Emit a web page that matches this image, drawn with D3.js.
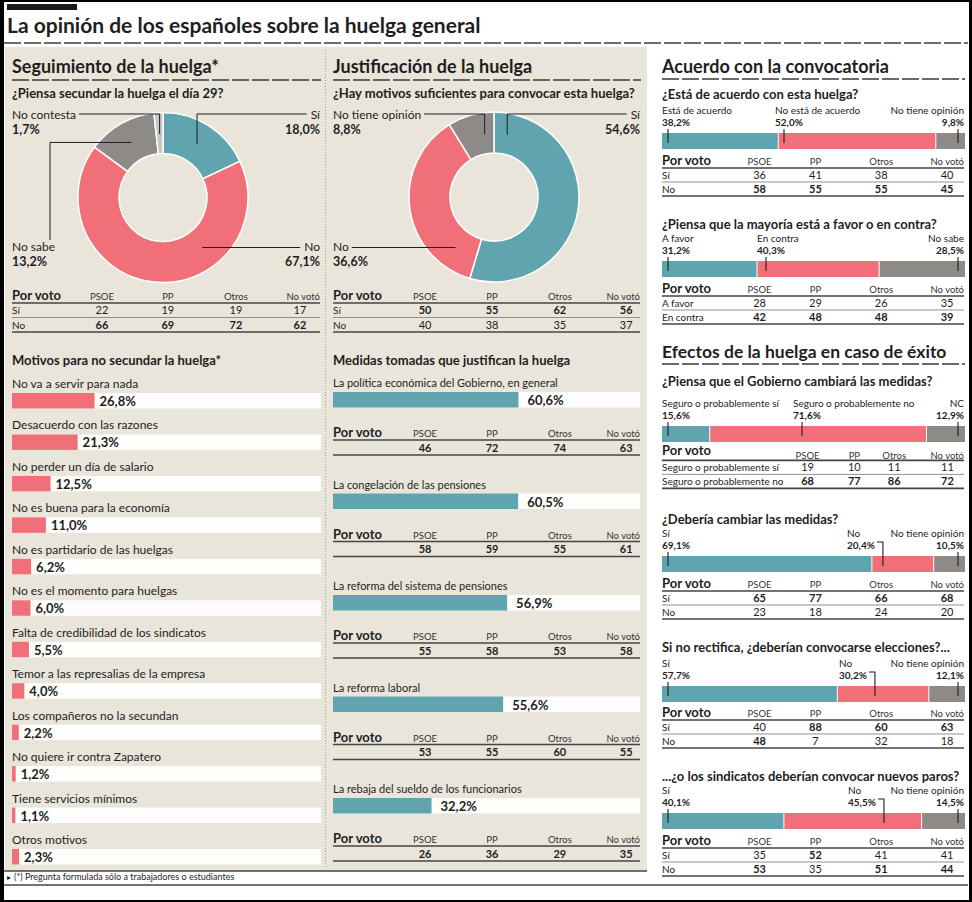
<!DOCTYPE html>
<html><head><meta charset="utf-8">
<script src="https://cdn.jsdelivr.net/npm/d3@7"></script>
<style>
body{margin:0;background:#fff}
svg{display:block}
</style></head><body>
<script>
// ---------------- DATA ----------------
const title = "La opinión de los españoles sobre la huelga general";
const parties = ["PSOE", "PP", "Otros", "No votó"];

// Seguimiento de la huelga
const seguimientoTitle = "Seguimiento de la huelga*";
const seguimientoQuestion = "¿Piensa secundar la huelga el día 29?";
const seguimientoLabels = ["Sí", "No", "No sabe", "No contesta"];
const seguimientoValues = [18.0, 67.1, 13.2, 1.7];
const seguimientoRows = ["Sí", "No"];
const seguimientoVoto = [[22, 19, 19, 17], [66, 69, 72, 62]];

// Motivos para no secundar
const motivosTitle = "Motivos para no secundar la huelga*";
const motivosLabels = ["No va a servir para nada", "Desacuerdo con las razones", "No perder un día de salario",
  "No es buena para la economía", "No es partidario de las huelgas", "No es el momento para huelgas",
  "Falta de credibilidad de los sindicatos", "Temor a las represalias de la empresa",
  "Los compañeros no la secundan", "No quiere ir contra Zapatero", "Tiene servicios mínimos", "Otros motivos"];
const motivosValues = [26.8, 21.3, 12.5, 11.0, 6.2, 6.0, 5.5, 4.0, 2.2, 1.2, 1.1, 2.3];

// Justificación
const justificacionTitle = "Justificación de la huelga";
const justificacionQuestion = "¿Hay motivos suficientes para convocar esta huelga?";
const justificacionLabels = ["Sí", "No", "No tiene opinión"];
const justificacionValues = [54.6, 36.6, 8.8];
const justificacionRows = ["Sí", "No"];
const justificacionVoto = [[50, 55, 62, 56], [40, 38, 35, 37]];

// Medidas
const medidasTitle = "Medidas tomadas que justifican la huelga";
const medidasLabels = ["La política económica del Gobierno, en general", "La congelación de las pensiones",
  "La reforma del sistema de pensiones", "La reforma laboral", "La rebaja del sueldo de los funcionarios"];
const medidasValues = [60.6, 60.5, 56.9, 55.6, 32.2];
const medidasVoto = [[46, 72, 74, 63], [58, 59, 55, 61], [55, 58, 53, 58], [53, 55, 60, 55], [26, 36, 29, 35]];

// Right column
const acuerdoTitle = "Acuerdo con la convocatoria";
const efectosTitle = "Efectos de la huelga en caso de éxito";
const rightQuestions = ["¿Está de acuerdo con esta huelga?", "¿Piensa que la mayoría está a favor o en contra?",
  "¿Piensa que el Gobierno cambiará las medidas?", "¿Debería cambiar las medidas?",
  "Si no rectifica, ¿deberían convocarse elecciones?...", "...¿o los sindicatos deberían convocar nuevos paros?"];
const rightLabels = [
  ["Está de acuerdo", "No está de acuerdo", "No tiene opinión"],
  ["A favor", "En contra", "No sabe"],
  ["Seguro o probablemente sí", "Seguro o probablemente no", "NC"],
  ["Sí", "No", "No tiene opinión"],
  ["Sí", "No", "No tiene opinión"],
  ["Sí", "No", "No tiene opinión"]];
const rightValues = [[38.2, 52.0, 9.8], [31.2, 40.3, 28.5], [15.6, 71.6, 12.9],
  [69.1, 20.4, 10.5], [57.7, 30.2, 12.1], [40.1, 45.5, 14.5]];
const rightRows = [["Sí", "No"], ["A favor", "En contra"],
  ["Seguro o probablemente sí", "Seguro o probablemente no"], ["Sí", "No"], ["Sí", "No"], ["Sí", "No"]];
const rightVoto = [
  [[36, 41, 38, 40], [58, 55, 55, 45]],
  [[28, 29, 26, 35], [42, 48, 48, 39]],
  [[19, 10, 11, 11], [68, 77, 86, 72]],
  [[65, 77, 66, 68], [23, 18, 24, 20]],
  [[40, 88, 60, 63], [48, 7, 32, 18]],
  [[35, 52, 41, 41], [53, 35, 51, 44]]];
const footnote = "(*) Pregunta formulada sólo a trabajadores o estudiantes";

// ---------------- STYLE / LAYOUT ----------------
const FONT = "Lato, 'Liberation Sans', sans-serif";
const C = {teal: "#5fa4af", red: "#f06f78", grey: "#8d8a88", light: "#c8c6c3", beige: "#e9e5da",
  ink: "#1e1e1e", track: "#fdfdfb", rule: "#444"};
const segColors = [C.teal, C.red, C.grey, C.light];
const fmt = d3.formatLocale({decimal: ",", thousands: ".", grouping: [3], currency: ["", "€"]}).format(".1f");
const pct = v => fmt(v) + "%";

const svg = d3.select("body").append("svg").attr("width", 972).attr("height", 902)
  .style("font-family", FONT);
svg.append("rect").attr("width", 972).attr("height", 902).attr("fill", "#fff");

function txt(g, x, y, s, o = {}) {
  return g.append("text").attr("x", x).attr("y", y).text(s)
    .attr("font-size", o.size || 11).attr("font-weight", o.weight || "normal")
    .attr("text-anchor", o.anchor || "start").attr("fill", o.fill || C.ink);
}
function line(g, x1, y1, x2, y2, w = 1, col = C.ink, dash = null) {
  const l = g.append("line").attr("x1", x1).attr("y1", y1).attr("x2", x2).attr("y2", y2)
    .attr("stroke", col).attr("stroke-width", w);
  if (dash) l.attr("stroke-dasharray", dash);
  return l;
}
function dashed(g, x0, x1, y) { line(g, x0, y, x1, y, 1.7, "#3a3a3a", "17,3"); }

// background panel & frame
svg.append("rect").attr("x", 5).attr("y", 47).attr("width", 642).attr("height", 824).attr("fill", C.beige);
line(svg, 325.5, 50, 325.5, 868, 1, "#9a968c", "1,2");
svg.append("rect").attr("x", 7).attr("y", 4).attr("width", 70).attr("height", 6).attr("fill", "#1a1a1a");
txt(svg, 7, 33, title, {size: 21, weight: "bold"});
dashed(svg, 4, 968, 43);
line(svg, 4, 871, 647, 871, 1.6, C.rule);
line(svg, 4, 885, 968, 885, 1.6, C.rule);
txt(svg, 7, 880, "▸", {size: 8});
txt(svg, 14, 880, footnote, {size: 9});
svg.append("rect").attr("x", 0).attr("y", 0).attr("width", 4).attr("height", 902).attr("fill", "#000");
svg.append("rect").attr("x", 969).attr("y", 0).attr("width", 3).attr("height", 902).attr("fill", "#000");
svg.append("rect").attr("x", 0).attr("y", 0).attr("width", 972).attr("height", 2).attr("fill", "#000");
svg.append("rect").attr("x", 0).attr("y", 900).attr("width", 972).attr("height", 2).attr("fill", "#000");

// ------------- Por voto table -------------
function votoTable(g, x0, x1, y, rowLabels, values, o = {}) {
  const cols = o.cols || [0.3, 0.51, 0.73, 0.945];
  const rowH = o.rowH || 14;
  const xs = d3.scaleLinear().domain([0, 1]).range([x0, x1]);
  txt(g, x0, y, "Por voto", {size: 13, weight: "bold"});
  const hy = y + (o.headerDy || 0);
  parties.forEach((p, i) => txt(g, i === 3 ? x1 : xs(cols[i]), hy, p,
    {size: 9.5, anchor: i === 3 ? "end" : "middle", fill: "#333"}));
  const top = y + 3 + (o.headerDy || 0) * 0.6;
  line(g, x0, top, x1, top, 1.6, C.rule);
  const colMax = parties.map((_, j) => d3.max(values, r => r[j]));
  values.forEach((row, i) => {
    const by = top + rowH * (i + 1) - 3.5;
    if (rowLabels) txt(g, x0, by, rowLabels[i], {size: 10});
    row.forEach((v, j) => txt(g, xs(cols[j]), by, v,
      {size: 11, anchor: "middle", weight: (values.length === 1 || v === colMax[j]) ? "bold" : "normal"}));
    const last = i === values.length - 1;
    line(g, x0, top + rowH * (i + 1), x1, top + rowH * (i + 1), last ? 1.6 : 0.8, last ? C.rule : "#777");
  });
}

// ------------- Donut -------------
function donut(g, cx, cy, x0, x1, labels, values, cfg) {
  const pie = d3.pie().sort(null).value(d => d.v);
  const arcs = pie(labels.map((l, i) => ({l, v: values[i], i})));
  const arc = d3.arc().innerRadius(44).outerRadius(85);
  g.append("g").attr("transform", `translate(${cx},${cy})`)
    .selectAll("path").data(arcs).enter().append("path")
    .attr("d", arc).attr("fill", d => segColors[d.data.i]).attr("stroke", "#fff").attr("stroke-width", 1.5);
  const rm = 63.5;
  cfg.forEach((c, i) => {
    const a = arcs[i];
    const right = c.side === "right";
    const ny = c.pos === "top" ? 119 : 251;
    const lx = right ? x1 : x0;
    const t = txt(g, lx, ny, labels[i], {size: 12, anchor: right ? "end" : "start"});
    txt(g, lx, ny + 14.5, pct(values[i]), {size: 12.5, weight: "bold", anchor: right ? "end" : "start"});
    const tw = t.node().getComputedTextLength();
    const edge = right ? lx - tw - 4 : lx + tw + 3;
    const ang = c.angle != null ? c.angle * Math.PI / 180 : (a.startAngle + a.endAngle) / 2;
    let px = cx + rm * Math.sin(ang), py = cy - rm * Math.cos(ang);
    if (c.type === "top") {
      const ly = ny - 5;
      g.append("path").attr("d", `M${edge},${ly}H${px}V${py}`).attr("fill", "none").attr("stroke", C.ink);
    } else if (c.type === "side") {
      const ly = ny - 3.5;
      const dx = Math.sqrt(rm * rm - (ly - cy) * (ly - cy));
      px = right ? cx + dx : cx - dx;
      line(g, edge, ly, px, ly);
    } else {
      const vx = x0 + 38;
      g.append("path").attr("d", `M${px},${py}H${vx}V${ny - 11}`).attr("fill", "none").attr("stroke", C.ink);
    }
  });
}

// ------------- Simple horizontal bar -------------
function simpleBar(g, x0, x1, y, label, value, color, gap, lsize) {
  const xs = d3.scaleLinear().domain([0, 100]).range([x0, x1 - 1]);
  txt(g, x0, y, label, {size: lsize});
  g.append("rect").attr("x", x0).attr("y", y + 5).attr("width", x1 - x0).attr("height", 15.5).attr("fill", C.track);
  g.append("rect").attr("x", x0).attr("y", y + 5).attr("width", xs(value) - x0).attr("height", 15.5).attr("fill", color);
  txt(g, xs(value) + gap, y + 18, pct(value), {size: 13, weight: "bold"});
}

// ---------------- LEFT COLUMN ----------------
const L = svg.append("g");
txt(L, 12, 73, seguimientoTitle, {size: 18, weight: "bold"});
dashed(L, 12, 321, 80);
txt(L, 12, 98, seguimientoQuestion, {size: 13, weight: "bold"});
donut(L, 163, 197.5, 12, 320, seguimientoLabels, seguimientoValues, [
  {side: "right", pos: "top", type: "top"},
  {side: "right", pos: "bottom", type: "side"},
  {side: "left", pos: "bottom", type: "elbow"},
  {side: "left", pos: "top", type: "top"}]);
votoTable(L, 12, 320, 300, seguimientoRows, seguimientoVoto, {cols: [0.292, 0.506, 0.727, 0.935], rowH: 14.5});
txt(L, 12, 365, motivosTitle, {size: 13, weight: "bold"});
const motY = d3.scaleLinear().domain([0, motivosLabels.length - 1]).range([388, 844]);
motivosLabels.forEach((m, i) => simpleBar(L, 12, 321, motY(i), m, motivosValues[i], C.red, 5, 12));

// ---------------- MIDDLE COLUMN ----------------
const M = svg.append("g");
txt(M, 333, 73, justificacionTitle, {size: 18, weight: "bold"});
dashed(M, 333, 641, 80);
txt(M, 333, 98, justificacionQuestion, {size: 13, weight: "bold"});
donut(M, 494, 197, 333, 640, justificacionLabels, justificacionValues, [
  {side: "right", pos: "top", type: "top", angle: 12},
  {side: "left", pos: "bottom", type: "side"},
  {side: "left", pos: "top", type: "top", angle: 351.5}]);
votoTable(M, 333, 640, 300, justificacionRows, justificacionVoto, {cols: [0.3, 0.518, 0.739, 0.955], rowH: 14.5});
txt(M, 333, 365, medidasTitle, {size: 13, weight: "bold"});
const medY = d3.scaleLinear().domain([0, medidasLabels.length - 1]).range([387, 793]);
medidasLabels.forEach((m, i) => {
  const y = medY(i);
  simpleBar(M, 333, 640, y, m, medidasValues[i], C.teal, 9, 11);
  votoTable(M, 333, 640, y + 50, null, [medidasVoto[i]], {cols: [0.3, 0.518, 0.739, 0.955], rowH: 15});
});

// ---------------- RIGHT COLUMN ----------------
const R = svg.append("g");
const rx0 = 662, rx1 = 965;
txt(R, rx0, 73, acuerdoTitle, {size: 18, weight: "bold"});
dashed(R, rx0, rx1, 79);
txt(R, rx0, 358, efectosTitle, {size: 17.5, weight: "bold"});
dashed(R, rx0, rx1, 364);

const rightLayout = [
  {qy: 99, barY: 133, tableY: 165, midX: 775, mid: "tick"},
  {qy: 229, barY: 261, tableY: 293, midX: 757, mid: "tick"},
  {qy: 386, barY: 426, tableY: 455, midX: 793, mid: "tick", headerDy: 4, cols: [0.482, 0.637, 0.769, 0.945]},
  {qy: 524, barY: 556, tableY: 588, midX: 847, mid: "bracket"},
  {qy: 652, barY: 686, tableY: 717, midX: 839, mid: "bracket"},
  {qy: 781, barY: 813, tableY: 845, midX: 848, mid: "bracket"}];

rightQuestions.forEach((q, k) => {
  const lay = rightLayout[k];
  const vals = rightValues[k], labs = rightLabels[k];
  txt(R, rx0, lay.qy, q, {size: 13, weight: "bold"});
  const xs = d3.scaleLinear().domain([0, d3.sum(vals)]).range([rx0, rx1]);
  const cum = d3.cumsum(vals);
  const segs = vals.map((v, i) => ({i, a: cum[i] - v, b: cum[i]}));
  R.append("g").selectAll("rect").data(segs).enter().append("rect")
    .attr("x", d => xs(d.a) + (d.i ? 1 : 0)).attr("width", d => xs(d.b) - xs(d.a) - (d.i ? 1 : 0))
    .attr("y", lay.barY).attr("height", 16).attr("fill", d => segColors[d.i]);
  const ly = lay.barY - 19.5, py = lay.barY - 7, tipY = lay.barY + 10;
  // first
  txt(R, rx0, ly, labs[0], {size: 10});
  txt(R, rx0, py, pct(vals[0]), {size: 10, weight: "bold"});
  line(R, rx0 + 6, py + 3, rx0 + 6, tipY, 1.1);
  // last
  txt(R, rx1 - 1, ly, labs[2], {size: 10, anchor: "end"});
  txt(R, rx1 - 1, py, pct(vals[2]), {size: 10, weight: "bold", anchor: "end"});
  line(R, rx1 - 7, py + 3, rx1 - 7, tipY, 1.1);
  // middle
  txt(R, lay.midX, ly, labs[1], {size: 10});
  const pt = txt(R, lay.midX, py, pct(vals[1]), {size: 10, weight: "bold"});
  if (lay.mid === "tick") {
    line(R, lay.midX + 9, py + 3, lay.midX + 9, tipY, 1.1);
  } else {
    const w = pt.node().getComputedTextLength();
    const bx = lay.midX + w + 8;
    R.append("path").attr("d", `M${lay.midX + w + 2},${py - 7}H${bx}V${tipY}`)
      .attr("fill", "none").attr("stroke", C.ink).attr("stroke-width", 1.1);
  }
  votoTable(R, rx0, rx1 - 1, lay.tableY, rightRows[k], rightVoto[k],
    {cols: lay.cols || [0.323, 0.508, 0.726, 0.944], rowH: 14, headerDy: lay.headerDy || 0});
});
</script>
</body></html>
